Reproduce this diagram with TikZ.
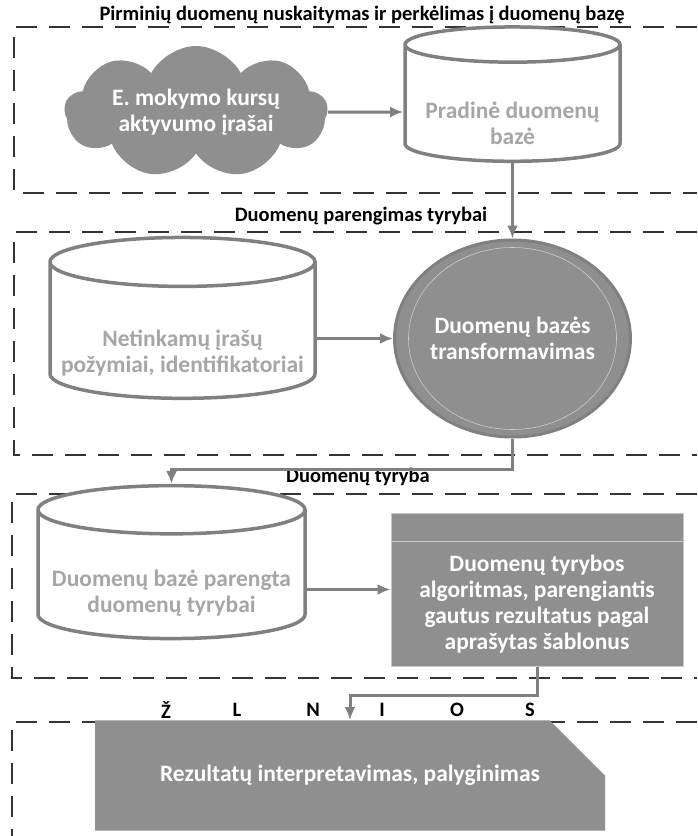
\documentclass[tikz,border=0pt]{standalone}
\usepackage{fontspec}
\setmainfont{Carlito}
\usetikzlibrary{arrows.meta}
\usetikzlibrary{shapes.geometric,shapes.symbols,shapes.misc}
\usepackage{xcolor}
\colorlet{myfill}{black!44}
\colorlet{myedge}{black!50}
\colorlet{mytext}{black!35}
\colorlet{mydash}{black!80}
\newcommand{\topgap}[1]{\rule{0pt}{#1}} % pushes the text of a node down
\tikzset{
  >=latex,
  base/.style={font=\bfseries\fontsize{23.5}{26}\selectfont, align=center, inner sep=1},
  title/.style={font=\bfseries\fontsize{20.5}{23}\selectfont, inner sep=1},
  frame/.style={mydash, line width=1.3, dash pattern=on 21pt off 12pt},
  node db/.style={base, cylinder, shape border rotate=90, aspect=0.2, draw=myedge, line width=3.5, fill=white, text=mytext},
  node cloud/.style={base, cloud, cloud puffs=9, cloud puff arc=125, cloud ignores aspect, fill=myfill, text=white},
  node trans/.style={base, ellipse, draw=myedge, line width=3, fill=myfill, text=white},
  node algo/.style={base, rectangle, draw=black!22, line width=1, fill=myfill, text=white},
  node out/.style={base, chamfered rectangle, chamfered rectangle corners=north east, fill=myfill, text=white},
  connect arrow/.style={-{Latex[length=13,width=11]}, line width=3, myedge}
}
\begin{document}
\begin{tikzpicture}[x=1pt,y=-1pt]
  \useasboundingbox (0,0) rectangle (697,836);
  \fill[white] (0,0) rectangle (697,836);

  \draw[frame] (697,27) -- (14,27) -- (14,193) -- (697,193);
  \draw[frame] (697,232) -- (14,232) -- (14,455) -- (697,455);
  \draw[frame] (697,494) -- (12,494) -- (12,678) -- (697,678);
  \draw[frame] (697,722) -- (12,722) -- (12,836);

  \node[title] (t1) at (362,15) {Pirminių duomenų nuskaitymas ir perkėlimas į duomenų bazę};
  \node[title] (t2) at (361,216) {Duomenų parengimas tyrybai};
  \node[title] (t3) at (358,477) {Duomenų tyryba};
  \foreach \ch/\x [count=\i] in {Ž/166,L/237,N/313,I/382,O/457,S/530}
    \node[title] (k\i) at (\x,710) {\ch};

  \node[node cloud, minimum width=263, minimum height=132] (src) at (196,112) {E. mokymo kursų\\aktyvumo įrašai};
  \node[node db, minimum width=215, minimum height=126] (rawdb) at (512.5,105) {\topgap{54pt}Pradinė duomenų\\bazė};
  \node[node db, minimum width=265, minimum height=139] (badrec) at (182.5,332.5) {\topgap{57pt}Netinkamų įrašų\\požymiai, identifikatoriai};
  \node[node trans, minimum width=225, minimum height=197,
    path picture={\draw[black!20, line width=0.6] (path picture bounding box.center) ellipse [x radius=104pt, y radius=91pt];}] (trans) at (512.5,338.5) {Duomenų bazės\\transformavimas};
  \node[node db, minimum width=267, minimum height=127] (prepdb) at (171.5,576.5) {\topgap{50pt}Duomenų bazė parengta\\duomenų tyrybai};
  \node[node algo, minimum width=292, minimum height=153,
    path picture={\draw[black!22, line width=1] ([yshift=-28pt]path picture bounding box.north west) -- ([yshift=-28pt]path picture bounding box.north east);}] (algo) at (537,589.5) {\topgap{45pt}Duomenų tyrybos\\algoritmas, parengiantis\\gautus rezultatus pagal\\aprašytas šablonus};
  \node[node out, minimum width=510, minimum height=89, chamfered rectangle xsep=51pt, chamfered rectangle ysep=44pt] (interp) at (350,775.5) {Rezultatų interpretavimas, palyginimas};

  \draw[connect arrow] (src) -- (src -| rawdb.west);
  \draw[connect arrow] (rawdb) -- (trans);
  \draw[connect arrow] (badrec.east |- trans) -- (trans.west);
  \draw[connect arrow] (trans.south) -- ++(0,31) -| (prepdb.north);
  \draw[connect arrow] (prepdb.east |- algo) -- (algo.west);
  \draw[connect arrow] (algo.south) -- ++(0,29) -| (interp.north);
\end{tikzpicture}
\end{document}
